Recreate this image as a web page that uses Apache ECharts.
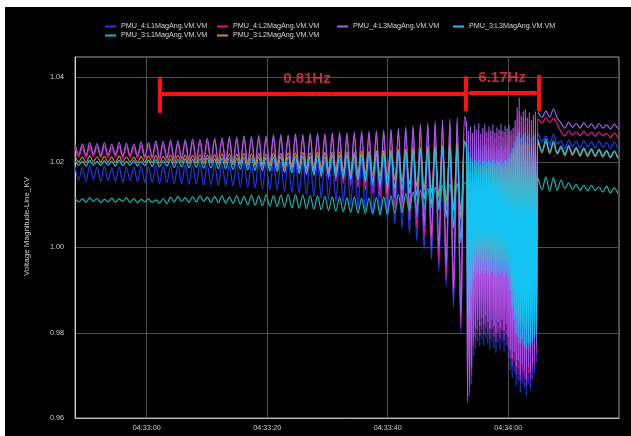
<!DOCTYPE html>
<html>
<head>
<meta charset="utf-8">
<script src="https://cdn.jsdelivr.net/npm/echarts@6/dist/echarts.min.js"></script>
<style>
  html, body { margin: 0; padding: 0; background: #fff; width: 631px; height: 436px; overflow: hidden; }
  #chart { position: absolute; left: 5px; top: 7px; width: 626px; height: 429px; background: #000; }
</style>
</head>
<body>
<div id="chart"></div>
<script>
// Time axis is in seconds relative to 04:33:00.
const baseClock = 4 * 3600 + 33 * 60;
const timeTicks = [0, 20, 40, 60];
const voltTicks = [0.96, 0.98, 1.00, 1.02, 1.04];

const seriesNames = [
  'PMU_4:L1MagAng.VM.VM',
  'PMU_4:L2MagAng.VM.VM',
  'PMU_4:L3MagAng.VM.VM',
  'PMU_3:L3MagAng.VM.VM',
  'PMU_3:L1MagAng.VM.VM',
  'PMU_3:L2MagAng.VM.VM'
];
const seriesColors = ['#1b3cf2', '#e2168e', '#9c62f2', '#14c4f4', '#16b8b2', '#d0862c'];

// Sample grids: slow swing, fast swing, after separation.
const slowGrid = { start: -11.9, step: 0.61, count: 107 };
const fastGrid = { start: 53.1, step: 0.168, count: 70 };
const postGrid = { start: 65.0, step: 0.63, count: 22 };

// PMU_4 : L1
const pmu4L1Slow = [
  1.0190,1.0158,1.0188,1.0155,1.0192,1.0160,1.0189,1.0154,1.0191,1.0157,1.0187,1.0156,1.0190,1.0153,1.0188,1.0157,1.0189,1.0155,1.0191,1.0152,
  1.0190,1.0153,1.0192,1.0150,1.0191,1.0152,1.0193,1.0149,1.0192,1.0150,1.0194,1.0148,1.0193,1.0149,1.0195,1.0146,1.0194,1.0147,1.0196,1.0145,
  1.0195,1.0146,1.0197,1.0144,1.0196,1.0143,1.0198,1.0141,1.0197,1.0140,1.0199,1.0138,1.0198,1.0136,1.0200,1.0134,1.0199,1.0132,1.0201,1.0130,
  1.0201,1.0127,1.0202,1.0124,1.0203,1.0120,1.0204,1.0116,1.0204,1.0112,1.0205,1.0108,1.0206,1.0104,1.0206,1.0099,1.0207,1.0094,1.0208,1.0089,
  1.0209,1.0082,1.0210,1.0075,1.0212,1.0066,1.0213,1.0056,1.0215,1.0045,1.0217,1.0032,1.0219,1.0016,1.0221,0.9995,1.0224,0.9972,1.0227,0.9945,
  1.0230,0.9908,1.0233,0.9860,1.0236,0.9800,1.0240
];
const pmu4L1Fast = [
  1.0240,0.9635,1.0232,0.9650,1.0238,0.9680,1.0228,0.9745,1.0236,0.9762,1.0229,0.9780,1.0239,0.9768,1.0226,0.9784,1.0233,0.9770,1.0240,0.9788,
  1.0228,0.9774,1.0236,0.9760,1.0230,0.9778,1.0238,0.9764,1.0225,0.9752,1.0234,0.9776,1.0230,0.9760,1.0239,0.9778,1.0227,0.9756,1.0235,0.9770,
  1.0231,0.9740,1.0236,0.9712,1.0229,0.9694,1.0233,0.9708,1.0245,0.9676,1.0262,0.9688,1.0270,0.9660,1.0252,0.9682,1.0258,0.9670,1.0262,0.9652,
  1.0250,0.9680,1.0258,0.9668,1.0248,0.9690,1.0255,0.9705,1.0260,0.9730
];
const pmu4L1Post = [
  1.0268,1.0248,1.0262,1.0240,1.0266,1.0243,1.0250,1.0233,1.0252,1.0236,1.0249,1.0234,1.0251,1.0236,1.0248,1.0233,1.0250,1.0235,1.0247,1.0232,1.0248,1.0233
];

// PMU_4 : L2
const pmu4L2Slow = [
  1.0237,1.0212,1.0235,1.0210,1.0238,1.0213,1.0236,1.0211,1.0237,1.0210,1.0234,1.0212,1.0238,1.0209,1.0236,1.0211,1.0235,1.0210,1.0239,1.0208,
  1.0240,1.0207,1.0242,1.0205,1.0241,1.0206,1.0244,1.0203,1.0243,1.0204,1.0246,1.0201,1.0247,1.0202,1.0246,1.0200,1.0248,1.0199,1.0250,1.0197,
  1.0251,1.0196,1.0253,1.0194,1.0252,1.0192,1.0255,1.0190,1.0254,1.0188,1.0256,1.0186,1.0255,1.0184,1.0257,1.0181,1.0258,1.0179,1.0257,1.0176,
  1.0259,1.0173,1.0258,1.0170,1.0260,1.0167,1.0261,1.0163,1.0260,1.0159,1.0262,1.0155,1.0263,1.0150,1.0262,1.0145,1.0264,1.0140,1.0265,1.0134,
  1.0266,1.0126,1.0267,1.0117,1.0269,1.0106,1.0271,1.0094,1.0273,1.0080,1.0276,1.0064,1.0279,1.0045,1.0282,1.0022,1.0285,0.9996,1.0288,0.9965,
  1.0291,0.9925,1.0293,0.9880,1.0296,0.9815,1.0298
];
const pmu4L2Fast = [
  1.0275,0.9640,1.0262,0.9660,1.0270,0.9700,1.0258,0.9768,1.0273,0.9785,1.0262,0.9805,1.0276,0.9792,1.0255,0.9808,1.0266,0.9796,1.0274,0.9812,
  1.0258,0.9800,1.0270,0.9786,1.0262,0.9806,1.0273,0.9790,1.0256,0.9778,1.0268,0.9800,1.0263,0.9786,1.0275,0.9804,1.0260,0.9782,1.0271,0.9796,
  1.0265,0.9768,1.0272,0.9740,1.0262,0.9722,1.0268,0.9735,1.0285,0.9702,1.0310,0.9716,1.0320,0.9685,1.0295,0.9706,1.0304,0.9694,1.0308,0.9676,
  1.0290,0.9704,1.0302,0.9690,1.0288,0.9714,1.0298,0.9728,1.0305,0.9752
];
const pmu4L2Post = [
  1.0302,1.0292,1.0305,1.0293,1.0303,1.0290,1.0272,1.0262,1.0274,1.0264,1.0271,1.0262,1.0273,1.0263,1.0270,1.0261,1.0271,1.0262,1.0268,1.0258,1.0269,1.0257
];

// PMU_4 : L3
const pmu4L3Slow = [
  1.0245,1.0218,1.0243,1.0216,1.0247,1.0219,1.0244,1.0215,1.0246,1.0217,1.0242,1.0218,1.0247,1.0214,1.0245,1.0216,1.0243,1.0215,1.0248,1.0213,
  1.0247,1.0212,1.0250,1.0210,1.0249,1.0211,1.0252,1.0208,1.0251,1.0209,1.0253,1.0206,1.0255,1.0207,1.0254,1.0205,1.0256,1.0204,1.0257,1.0203,
  1.0258,1.0202,1.0260,1.0200,1.0259,1.0199,1.0262,1.0197,1.0261,1.0196,1.0263,1.0194,1.0262,1.0192,1.0264,1.0190,1.0265,1.0188,1.0264,1.0186,
  1.0266,1.0184,1.0265,1.0181,1.0267,1.0179,1.0268,1.0176,1.0267,1.0173,1.0269,1.0170,1.0270,1.0166,1.0269,1.0162,1.0271,1.0158,1.0272,1.0153,
  1.0273,1.0146,1.0274,1.0138,1.0276,1.0128,1.0278,1.0117,1.0280,1.0105,1.0283,1.0090,1.0286,1.0072,1.0290,1.0050,1.0293,1.0025,1.0297,0.9995,
  1.0300,0.9955,1.0302,0.9905,1.0305,0.9840,1.0308
];
const pmu4L3Fast = [
  1.0290,0.9650,1.0275,0.9675,1.0285,0.9720,1.0270,0.9790,1.0288,0.9810,1.0278,0.9830,1.0292,0.9815,1.0268,0.9835,1.0281,0.9820,1.0290,0.9840,
  1.0272,0.9825,1.0285,0.9810,1.0276,0.9830,1.0289,0.9815,1.0270,0.9800,1.0283,0.9825,1.0278,0.9810,1.0291,0.9830,1.0274,0.9805,1.0286,0.9820,
  1.0280,0.9790,1.0288,0.9760,1.0276,0.9740,1.0282,0.9755,1.0300,0.9720,1.0330,0.9735,1.0352,0.9700,1.0310,0.9725,1.0320,0.9710,1.0325,0.9690,
  1.0305,0.9720,1.0318,0.9705,1.0300,0.9730,1.0312,0.9745,1.0320,0.9770
];
const pmu4L3Post = [
  1.0318,1.0305,1.0320,1.0306,1.0325,1.0304,1.0292,1.0280,1.0294,1.0282,1.0291,1.0280,1.0293,1.0281,1.0290,1.0279,1.0291,1.0280,1.0288,1.0278,1.0289,1.0279
];

// PMU_3 : L3
const pmu3L3Slow = [
  1.0204,1.0193,1.0203,1.0191,1.0205,1.0194,1.0202,1.0192,1.0204,1.0193,1.0203,1.0191,1.0205,1.0192,1.0202,1.0193,1.0204,1.0191,1.0203,1.0192,
  1.0205,1.0190,1.0206,1.0189,1.0204,1.0191,1.0207,1.0188,1.0206,1.0189,1.0208,1.0187,1.0207,1.0188,1.0208,1.0186,1.0209,1.0187,1.0208,1.0185,
  1.0209,1.0185,1.0210,1.0183,1.0209,1.0184,1.0211,1.0182,1.0210,1.0181,1.0212,1.0180,1.0211,1.0179,1.0212,1.0178,1.0213,1.0176,1.0212,1.0175,
  1.0213,1.0174,1.0214,1.0172,1.0213,1.0171,1.0215,1.0169,1.0214,1.0167,1.0216,1.0165,1.0215,1.0163,1.0217,1.0160,1.0216,1.0158,1.0218,1.0155,
  1.0219,1.0152,1.0220,1.0148,1.0221,1.0144,1.0222,1.0139,1.0224,1.0134,1.0225,1.0128,1.0227,1.0121,1.0229,1.0112,1.0231,1.0101,1.0233,1.0088,
  1.0236,1.0070,1.0240,1.0045,1.0244,1.0010,1.0248
];
const pmu3L3Fast = [
  1.0240,0.9800,1.0225,0.9840,1.0210,0.9890,1.0200,0.9925,1.0205,0.9935,1.0198,0.9942,1.0206,0.9936,1.0196,0.9945,1.0203,0.9938,1.0208,0.9946,
  1.0199,0.9940,1.0205,0.9933,1.0200,0.9944,1.0207,0.9937,1.0197,0.9930,1.0204,0.9942,1.0201,0.9935,1.0208,0.9944,1.0198,0.9932,1.0205,0.9940,
  1.0202,0.9928,1.0212,0.9900,1.0222,0.9860,1.0235,0.9830,1.0250,0.9800,1.0262,0.9790,1.0270,0.9775,1.0258,0.9785,1.0265,0.9770,1.0270,0.9762,
  1.0262,0.9775,1.0268,0.9768,1.0258,0.9780,1.0264,0.9790,1.0268,0.9800
];
const pmu3L3Post = [
  1.0252,1.0226,1.0255,1.0224,1.0250,1.0222,1.0238,1.0219,1.0240,1.0220,1.0235,1.0218,1.0234,1.0217,1.0232,1.0215,1.0231,1.0216,1.0228,1.0212,1.0227,1.0210
];

// PMU_3 : L1
const pmu3L1Slow = [
  1.0116,1.0107,1.0114,1.0106,1.0117,1.0108,1.0115,1.0105,1.0113,1.0107,1.0116,1.0106,1.0114,1.0108,1.0117,1.0106,1.0115,1.0105,1.0113,1.0107,
  1.0114,1.0106,1.0112,1.0104,1.0115,1.0103,1.0118,1.0107,1.0120,1.0108,1.0117,1.0106,1.0119,1.0107,1.0121,1.0108,1.0118,1.0106,1.0120,1.0105,
  1.0121,1.0104,1.0119,1.0103,1.0122,1.0102,1.0120,1.0100,1.0123,1.0099,1.0121,1.0098,1.0124,1.0097,1.0122,1.0096,1.0123,1.0095,1.0125,1.0093,
  1.0124,1.0092,1.0123,1.0091,1.0122,1.0090,1.0121,1.0088,1.0120,1.0087,1.0119,1.0085,1.0118,1.0084,1.0117,1.0082,1.0118,1.0081,1.0116,1.0079,
  1.0116,1.0078,1.0117,1.0077,1.0119,1.0078,1.0121,1.0080,1.0124,1.0082,1.0127,1.0085,1.0131,1.0088,1.0135,1.0091,1.0139,1.0094,1.0142,1.0096,
  1.0145,1.0097,1.0148,1.0095,1.0150,1.0090,1.0152
];
const pmu3L1Fast = [
  1.0150,0.9950,1.0140,0.9975,1.0130,0.9990,1.0125,0.9995,1.0128,0.9998,1.0124,1.0001,1.0129,0.9997,1.0123,1.0002,1.0127,0.9999,1.0130,1.0003,
  1.0125,1.0000,1.0128,0.9996,1.0126,1.0001,1.0130,0.9998,1.0122,0.9994,1.0127,1.0000,1.0125,0.9996,1.0131,1.0002,1.0123,0.9993,1.0128,0.9998,
  1.0126,0.9990,1.0132,0.9970,1.0140,0.9945,1.0150,0.9920,1.0160,0.9900,1.0170,0.9890,1.0175,0.9880,1.0168,0.9888,1.0172,0.9878,1.0176,0.9872,
  1.0170,0.9880,1.0174,0.9875,1.0168,0.9885,1.0172,0.9892,1.0175,0.9900
];
const pmu3L1Post = [
  1.0162,1.0135,1.0166,1.0132,1.0164,1.0134,1.0158,1.0138,1.0152,1.0136,1.0148,1.0134,1.0145,1.0133,1.0146,1.0134,1.0142,1.0130,1.0144,1.0128,1.0140,1.0127
];

// PMU_3 : L2
const pmu3L2Slow = [
  1.0214,1.0201,1.0212,1.0199,1.0215,1.0202,1.0213,1.0200,1.0214,1.0201,1.0212,1.0199,1.0215,1.0200,1.0213,1.0201,1.0212,1.0199,1.0214,1.0200,
  1.0215,1.0199,1.0216,1.0198,1.0214,1.0200,1.0217,1.0198,1.0216,1.0199,1.0217,1.0197,1.0216,1.0198,1.0218,1.0197,1.0217,1.0198,1.0218,1.0196,
  1.0219,1.0196,1.0220,1.0195,1.0219,1.0196,1.0221,1.0194,1.0220,1.0195,1.0221,1.0193,1.0220,1.0192,1.0222,1.0192,1.0221,1.0190,1.0222,1.0189,
  1.0222,1.0188,1.0223,1.0187,1.0222,1.0186,1.0224,1.0184,1.0223,1.0183,1.0224,1.0181,1.0224,1.0179,1.0225,1.0177,1.0224,1.0175,1.0226,1.0173,
  1.0226,1.0170,1.0227,1.0167,1.0228,1.0163,1.0229,1.0159,1.0230,1.0154,1.0231,1.0149,1.0233,1.0143,1.0234,1.0136,1.0236,1.0128,1.0238,1.0118,
  1.0240,1.0105,1.0243,1.0088,1.0246,1.0065,1.0250
];
const pmu3L2Fast = [
  1.0230,0.9900,1.0215,0.9930,1.0200,0.9955,1.0188,0.9965,1.0192,0.9970,1.0186,0.9974,1.0193,0.9968,1.0185,0.9975,1.0190,0.9970,1.0194,0.9976,
  1.0187,0.9972,1.0192,0.9966,1.0188,0.9975,1.0194,0.9969,1.0185,0.9964,1.0191,0.9973,1.0189,0.9967,1.0195,0.9975,1.0186,0.9965,1.0192,0.9971,
  1.0190,0.9960,1.0198,0.9935,1.0208,0.9900,1.0220,0.9870,1.0232,0.9845,1.0240,0.9835,1.0246,0.9822,1.0238,0.9830,1.0242,0.9818,1.0246,0.9812,
  1.0240,0.9822,1.0244,0.9815,1.0238,0.9826,1.0242,0.9834,1.0245,0.9842
];
const pmu3L2Post = [
  1.0246,1.0222,1.0248,1.0220,1.0244,1.0219,1.0234,1.0215,1.0236,1.0216,1.0232,1.0214,1.0231,1.0213,1.0229,1.0213,1.0228,1.0212,1.0226,1.0210,1.0225,1.0209
];

// Frequency annotation: bracket bars and labels (time s, voltage)
const bracketSegments = [
  [[2.2, 1.0360], [53.0, 1.0360]],
  [[53.7, 1.0363], [64.5, 1.0363]],
  [[2.2, 1.0396], [2.2, 1.0319]],
  [[53.0, 1.0398], [53.0, 1.0323]],
  [[65.1, 1.0401], [65.1, 1.0323]]
];
const bracketLabels = [
  { name: '0.81Hz', value: [26.6, 1.0396] },
  { name: '6.17Hz', value: [59.0, 1.0398] }
];

function sampleTimes(grid) {
  const out = [];
  for (let i = 0; i < grid.count; i++) out.push(+(grid.start + grid.step * i).toFixed(3));
  return out;
}
const times = sampleTimes(slowGrid).concat(sampleTimes(fastGrid), sampleTimes(postGrid));

const seriesValues = [
  pmu4L1Slow.concat(pmu4L1Fast, pmu4L1Post),
  pmu4L2Slow.concat(pmu4L2Fast, pmu4L2Post),
  pmu4L3Slow.concat(pmu4L3Fast, pmu4L3Post),
  pmu3L3Slow.concat(pmu3L3Fast, pmu3L3Post),
  pmu3L1Slow.concat(pmu3L1Fast, pmu3L1Post),
  pmu3L2Slow.concat(pmu3L2Fast, pmu3L2Post)
];

function clockLabel(sec) {
  const total = Math.round(baseClock + sec);
  const h = Math.floor(total / 3600), m = Math.floor((total % 3600) / 60), s = total % 60;
  const p = n => String(n).padStart(2, '0');
  return p(h) + ':' + p(m) + ':' + p(s);
}

const font = 'Liberation Sans, Arial, sans-serif';

const lineSeries = seriesNames.map((name, idx) => ({
  name,
  type: 'line',
  data: times.map((t, i) => [t, seriesValues[idx][i]]),
  symbol: 'none',
  smooth: 0.3,
  silent: true,
  z: name === 'PMU_3:L3MagAng.VM.VM' ? 3 : 2,
  lineStyle: { width: 1.2, color: seriesColors[idx] },
  itemStyle: { color: seriesColors[idx] }
}));

const legendBase = {
  orient: 'vertical',
  top: 15,
  padding: 0,
  itemGap: 0,
  itemWidth: 11,
  itemHeight: 2,
  icon: 'rect',
  selectedMode: false,
  textStyle: { color: '#d8d8d8', fontSize: 7.2, fontFamily: font, lineHeight: 9 }
};

const chart = echarts.init(document.getElementById('chart'), null, { renderer: 'canvas' });
chart.setOption({
  backgroundColor: '#000',
  animation: false,
  color: seriesColors,
  legend: [
    Object.assign({}, legendBase, { left: 100, data: [seriesNames[0], seriesNames[4]] }),
    Object.assign({}, legendBase, { left: 212, data: [seriesNames[1], seriesNames[5]] }),
    Object.assign({}, legendBase, { left: 332, data: [seriesNames[2]] }),
    Object.assign({}, legendBase, { left: 448, data: [seriesNames[3]] })
  ],
  grid: {
    left: 70, top: 50, width: 544, height: 361,
    show: true, borderColor: '#a0a0a0', borderWidth: 1, backgroundColor: 'transparent'
  },
  xAxis: {
    type: 'value',
    min: slowGrid.start,
    max: 78.4,
    axisLine: { show: true, onZero: false, lineStyle: { color: '#b8b8b8', width: 1 } },
    axisTick: { show: false, customValues: timeTicks },
    axisLabel: {
      customValues: timeTicks, formatter: clockLabel,
      color: '#d0d0d0', fontSize: 7.2, fontFamily: font, margin: 7
    },
    splitLine: { show: true, lineStyle: { color: '#4e4e4e', width: 1 } }
  },
  yAxis: {
    type: 'value',
    min: 0.96,
    max: 1.0447,
    name: 'Voltage Magnitude-Line_KV',
    nameLocation: 'middle',
    nameGap: 44,
    nameTextStyle: { color: '#d0d0d0', fontSize: 8, fontFamily: font, padding: [0, 0, 0, 22] },
    axisLine: { show: true, onZero: false, lineStyle: { color: '#d0d0d0', width: 1 } },
    axisTick: { show: false, customValues: voltTicks },
    axisLabel: {
      customValues: voltTicks, formatter: v => v.toFixed(2),
      color: '#d0d0d0', fontSize: 7.2, fontFamily: font, margin: 11
    },
    splitLine: { show: true, lineStyle: { color: '#4e4e4e', width: 1 } }
  },
  series: lineSeries.concat([
    {
      type: 'lines',
      coordinateSystem: 'cartesian2d',
      silent: true,
      z: 10,
      lineStyle: { color: '#ff1010', width: 4, opacity: 1, cap: 'round' },
      data: bracketSegments.map(c => ({ coords: c }))
    },
    {
      type: 'scatter',
      silent: true,
      z: 11,
      symbolSize: 1,
      itemStyle: { color: 'rgba(0,0,0,0)' },
      label: {
        show: true, position: 'inside', formatter: '{b}',
        color: '#ef3b3b', fontSize: 15, fontWeight: 'bold', fontFamily: font
      },
      data: bracketLabels
    }
  ])
});
</script>
</body>
</html>
